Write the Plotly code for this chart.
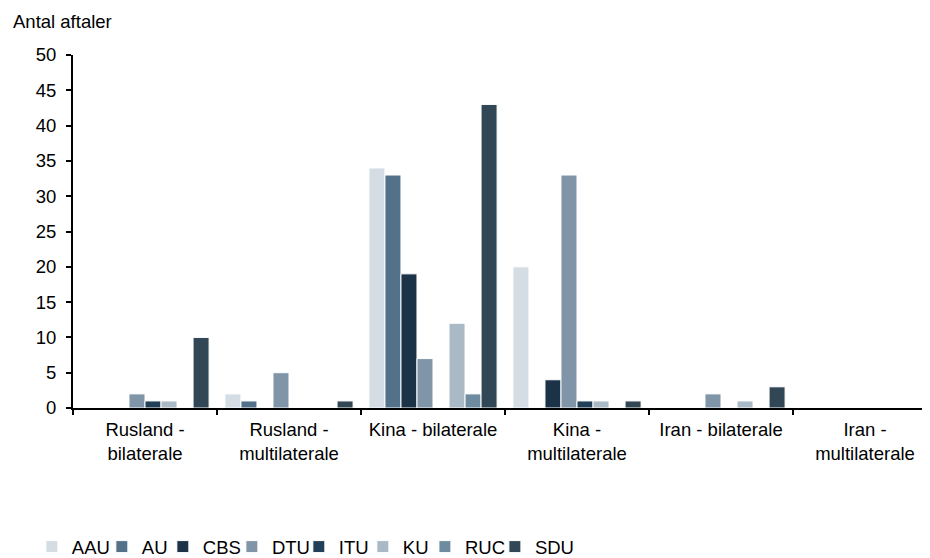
import plotly.graph_objects as go

categories = ["Rusland -<br>bilaterale", "Rusland -<br>multilaterale", "Kina - bilaterale",
              "Kina -<br>multilaterale", "Iran - bilaterale", "Iran -<br>multilaterale"]

AAU = [0, 2, 34, 20, 0, 0]
AU = [0, 1, 33, 0, 0, 0]
CBS = [0, 0, 19, 4, 0, 0]
DTU = [2, 5, 7, 33, 2, 0]
ITU = [1, 0, 0, 1, 0, 0]
KU = [1, 0, 12, 1, 1, 0]
RUC = [0, 0, 2, 0, 0, 0]
SDU = [10, 1, 43, 1, 3, 0]

series_names = ["AAU", "AU", "CBS", "DTU", "ITU", "KU", "RUC", "SDU"]
series_values = [AAU, AU, CBS, DTU, ITU, KU, RUC, SDU]
series_colors = ["#d5dde4", "#537289", "#1c3246", "#8096a8",
                 "#213f58", "#aab9c6", "#6f8ba0", "#324755"]

y_ticks = [0, 5, 10, 15, 20, 25, 30, 35, 40, 45, 50]

# horizontal placement (paper x) of each legend entry
legend_x = [-0.0476, 0.0334, 0.1040, 0.1839, 0.2614, 0.3355, 0.4073, 0.4883]

FONT = "Liberation Sans, Arial, sans-serif"
FS = 18.5

fig = go.Figure()
layout_legends = {}
for i, (name, vals, col) in enumerate(zip(series_names, series_values, series_colors)):
    key = "legend" if i == 0 else f"legend{i + 1}"
    fig.add_trace(go.Bar(name=name, x=categories, y=vals, legend=key,
                         marker=dict(color=col, line=dict(color="white", width=1))))
    layout_legends[key] = dict(orientation="h", x=legend_x[i], xanchor="left",
                               y=-0.394, yanchor="middle", font=dict(size=FS),
                               itemwidth=30, bgcolor="rgba(0,0,0,0)")

fig.update_layout(
    width=930, height=558,
    margin=dict(l=65, r=1, t=47, b=158, autoexpand=False),
    plot_bgcolor="white", paper_bgcolor="white",
    barmode="group", bargap=0.11, bargroupgap=0,
    font=dict(family=FONT, size=FS, color="#000000"),
    showlegend=True,
    xaxis=dict(type="category", showline=True, linecolor="black", linewidth=2,
               ticks="outside", tickson="boundaries", ticklen=5, tickwidth=2,
               tickcolor="black", showgrid=False, tickfont=dict(size=FS),
               ticklabelstandoff=4, automargin=False),
    yaxis=dict(range=[0, 50], tickvals=y_ticks, showline=True, linecolor="black",
               linewidth=2, ticks="outside", ticklen=5, tickwidth=2, tickcolor="black",
               showgrid=False, zeroline=False, tickfont=dict(size=FS),
               ticklabelstandoff=6, automargin=False),
    annotations=[dict(text="Antal aftaler", xref="paper", yref="paper",
                      x=-0.0718, y=1.13, xanchor="left", yanchor="top",
                      showarrow=False, font=dict(size=FS))],
    **layout_legends,
)

fig.write_html("out.html", post_script="document.body.style.overflow='hidden';")
